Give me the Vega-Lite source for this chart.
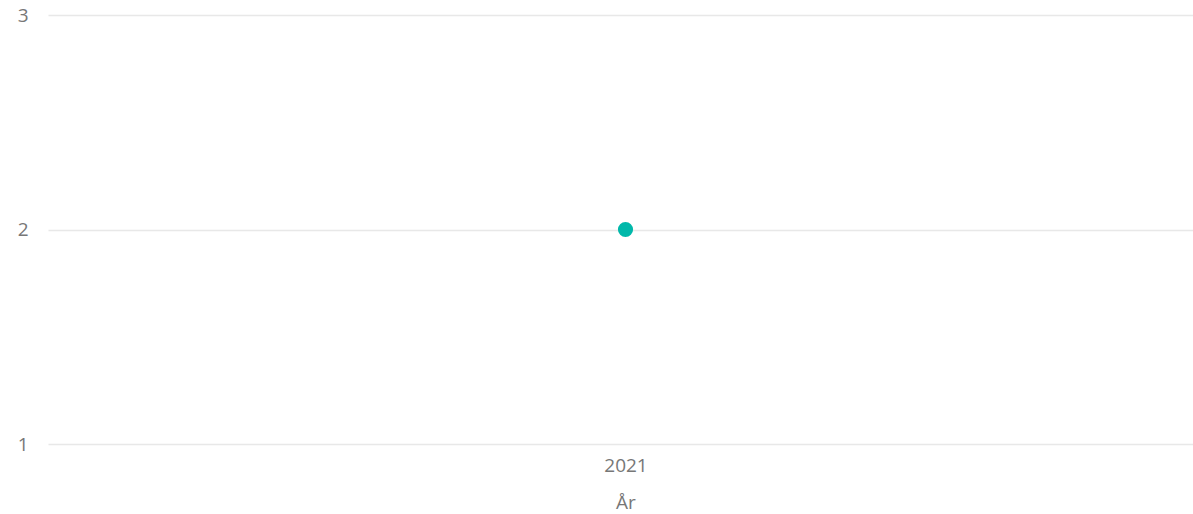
{
  "$schema": "https://vega.github.io/schema/vega-lite/v6.json",
  "autosize": {"type": "none"},
  "width": 1155,
  "height": 429,
  "padding": {"left": 48, "top": 15, "right": 0, "bottom": 70},
  "background": "#ffffff",
  "config": {
    "view": {"stroke": null},
    "font": "Open Sans"
  },
  "data": {"values": [{"Year": "2021", "Value": 2}]},
  "mark": {"type": "point", "filled": true, "opacity": 1, "size": 230, "color": "#01B8AA"},
  "encoding": {
    "x": {
      "field": "Year", "type": "ordinal",
      "scale": {"type": "point", "padding": 0.5},
      "axis": {
        "title": "År", "labelAngle": 0, "domain": false, "ticks": false, "grid": false,
        "labelFontSize": 19, "labelColor": "#777777", "labelPadding": 12,
        "titleFontSize": 19, "titleColor": "#777777", "titleFontWeight": "normal", "titlePadding": 18
      }
    },
    "y": {
      "field": "Value", "type": "quantitative",
      "scale": {"domain": [1, 3], "nice": false, "zero": false},
      "axis": {
        "title": null, "values": [1, 2, 3], "labelExpr": "format(datum.value, 'd')", "labelOverlap": false, "domain": false, "ticks": false,
        "grid": true, "gridColor": "#e8e8e8", "gridWidth": 1.5,
        "labelFontSize": 19, "labelColor": "#777777", "labelPadding": 20
      }
    }
  }
}
